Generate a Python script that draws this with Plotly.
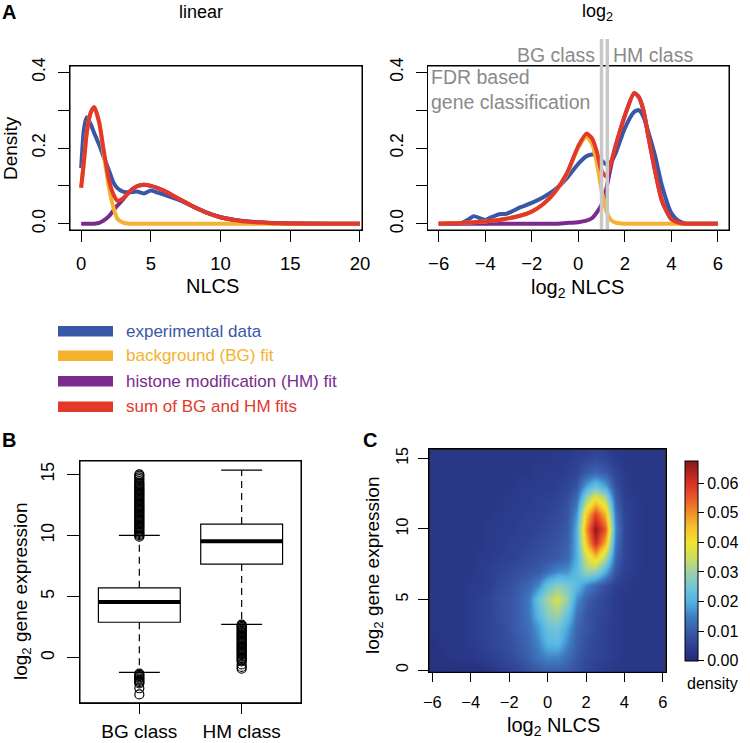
import plotly.graph_objects as go

W, H = 750, 743
def px(x):
    return x / W
def py(y):
    return 1 - y / H

# ---------------- Panel A data (densities) ----------------
nlcs_lin = [0, 0.2, 0.4, 0.7, 0.95, 1.3, 1.6, 2.0, 2.3, 2.6, 3.0, 3.5, 4.0, 4.5,
            5.0, 5.5, 6.0, 7.0, 8.0, 9.0, 10, 11, 12, 13, 14, 16, 18, 20]
exp_lin = [0.147, 0.25, 0.281, 0.262, 0.238, 0.208, 0.178, 0.14, 0.11, 0.094, 0.085, 0.083,
           0.085, 0.08, 0.088, 0.082, 0.076, 0.063, 0.046, 0.03, 0.017, 0.01, 0.006, 0.003,
           0.002, 0.001, 0.0, 0.0]
bg_lin = [0.095, 0.165, 0.24, 0.295, 0.306, 0.265, 0.19, 0.095, 0.045, 0.013, 0.003, 0.0,
          0, 0, 0, 0, 0, 0, 0, 0, 0, 0, 0, 0, 0, 0, 0, 0]
hm_lin = [0, 0, 0, 0, 0, 0.002, 0.008, 0.02, 0.034, 0.048, 0.064, 0.086, 0.099, 0.103,
          0.1, 0.094, 0.086, 0.066, 0.046, 0.029, 0.017, 0.01, 0.005, 0.003, 0.001, 0, 0, 0]
sum_lin = [0.095, 0.165, 0.24, 0.295, 0.308, 0.267, 0.198, 0.115, 0.079, 0.061, 0.067, 0.086,
           0.099, 0.103, 0.1, 0.094, 0.086, 0.066, 0.046, 0.029, 0.017, 0.01, 0.005, 0.003,
           0.001, 0, 0, 0]

nlcs_log = [-6, -5.5, -5.0, -4.7, -4.5, -4.2, -4.0, -3.7, -3.4, -3.1, -2.5, -2.0, -1.5, -1.0,
            -0.5, 0.0, 0.35, 0.6, 0.8, 1.0, 1.2, 1.4, 1.6, 2.0, 2.4, 2.6, 2.8, 3.0, 3.3, 3.6,
            4.0, 4.3, 4.6, 5.0, 5.5, 6.0]
exp_log = [0, 0, 0.002, 0.012, 0.02, 0.014, 0.01, 0.018, 0.025, 0.026, 0.043, 0.055, 0.07,
           0.09, 0.12, 0.158, 0.178, 0.183, 0.18, 0.168, 0.157, 0.163, 0.185, 0.252, 0.295,
           0.3, 0.283, 0.245, 0.18, 0.1, 0.028, 0.008, 0.001, 0, 0, 0]
bg_log = [0, 0.001, 0.002, 0.003, 0.004, 0.005, 0.006, 0.008, 0.01, 0.013, 0.021, 0.032,
          0.052, 0.084, 0.13, 0.201, 0.23, 0.21, 0.16, 0.09, 0.035, 0.01, 0.003, 0, 0, 0,
          0, 0, 0, 0, 0, 0, 0, 0, 0, 0]
hm_log = [0, 0, 0, 0, 0, 0, 0, 0, 0, 0, 0, 0, 0, 0, 0.002, 0.004, 0.008, 0.015, 0.03, 0.05,
          0.09, 0.15, 0.202, 0.285, 0.345, 0.335, 0.3, 0.235, 0.14, 0.06, 0.012, 0.003, 0,
          0, 0, 0]
sum_log = [0, 0.001, 0.002, 0.003, 0.004, 0.005, 0.006, 0.008, 0.01, 0.013, 0.021, 0.032,
           0.052, 0.084, 0.132, 0.205, 0.238, 0.225, 0.19, 0.14, 0.125, 0.16, 0.205, 0.285,
           0.345, 0.335, 0.3, 0.235, 0.14, 0.06, 0.012, 0.003, 0, 0, 0, 0]

fdr_thresholds = [1.0, 1.25]

series_names = ["experimental data", "background (BG) fit",
                "histone modification (HM) fit", "sum of BG and HM fits"]
series_colors = ["#3a57a7", "#f4b22e", "#7b2a8d", "#e3392b"]

# ---------------- Panel B data ----------------
box_classes = ["BG class", "HM class"]
box_pos = [1, 2]
box_q1 = [2.9, 7.66]
box_med = [4.55, 9.52]
box_q3 = [5.72, 10.93]
box_lo = [-1.2, 2.73]
box_hi = [10.0, 15.35]
bg_outliers = [9.9, 10.0, 10.1, 10.2, 10.3, 10.4, 10.5, 10.6, 10.7, 10.8, 10.9, 11.0,
               11.1, 11.2, 11.3, 11.4, 11.5, 11.6, 11.7, 11.8, 11.9, 12.0, 12.1, 12.2,
               12.3, 12.4, 12.5, 12.6, 12.7, 12.8, 12.9, 13.0, 13.1, 13.2, 13.3, 13.4,
               13.5, 13.6, 13.7, 13.8, 13.9, 14.0, 14.1, 14.2, 14.3, 14.45, 14.6, 14.75,
               14.9, 15.0,
               -1.3, -1.4, -1.5, -1.6, -1.7, -1.8, -1.9, -2.0, -2.1, -2.5, -3.0]
hm_outliers = [2.7, 2.6, 2.5, 2.4, 2.3, 2.2, 2.1, 2.0, 1.9, 1.8, 1.7, 1.6, 1.5, 1.4,
               1.3, 1.2, 1.1, 1.0, 0.9, 0.8, 0.7, 0.6, 0.5, 0.4, 0.3, 0.2, 0.1, 0.0,
               -0.1, -0.2, -0.3, -0.55, -0.75, -0.9]

# ---------------- Panel C data (2D density) ----------------
heat_x = [-6, -5.5, -5, -4.5, -4, -3.5, -3, -2.5, -2, -1.5, -1, -0.5, 0, 0.5, 1, 1.5,
          2, 2.5, 3, 3.5, 4, 4.5, 5, 5.5, 6]
heat_y = [0, 1, 2, 3, 4, 5, 6, 7, 8, 9, 10, 11, 12, 13, 14, 15, 16]
heat_z = [
    [.002, .002, .002, .002, .002, .002, .003, .004, .005, .006, .008, .010, .011, .011, .010, .008, .006, .005, .004, .003, .003, .003, .003, .003, .003],
    [.002, .002, .003, .003, .003, .004, .005, .006, .007, .009, .011, .014, .016, .016, .013, .010, .007, .006, .005, .004, .003, .003, .003, .003, .003],
    [.002, .003, .003, .003, .004, .005, .006, .007, .008, .010, .012, .016, .021, .022, .016, .011, .008, .006, .005, .004, .003, .003, .003, .003, .003],
    [.003, .003, .003, .003, .004, .005, .006, .007, .009, .011, .013, .018, .024, .025, .019, .012, .009, .007, .005, .004, .003, .003, .003, .003, .003],
    [.003, .003, .003, .003, .004, .005, .006, .008, .009, .011, .014, .022, .028, .031, .024, .014, .009, .007, .006, .004, .003, .003, .003, .003, .003],
    [.003, .003, .003, .003, .004, .005, .006, .008, .009, .011, .014, .024, .031, .036, .029, .017, .011, .008, .006, .004, .003, .003, .003, .003, .003],
    [.003, .003, .003, .003, .004, .004, .005, .007, .008, .010, .012, .016, .024, .028, .026, .022, .016, .012, .008, .005, .004, .003, .003, .003, .003],
    [.003, .003, .003, .003, .003, .004, .005, .006, .007, .008, .009, .010, .013, .016, .017, .022, .030, .029, .020, .009, .005, .004, .003, .003, .003],
    [.003, .003, .003, .003, .003, .004, .004, .005, .005, .006, .007, .008, .009, .010, .012, .020, .036, .044, .032, .012, .006, .004, .003, .003, .003],
    [.003, .003, .003, .003, .003, .003, .004, .004, .005, .005, .006, .007, .008, .009, .011, .020, .045, .061, .046, .014, .006, .004, .003, .003, .003],
    [.003, .003, .003, .003, .003, .003, .004, .004, .004, .005, .005, .006, .007, .008, .010, .020, .050, .067, .055, .016, .006, .004, .003, .003, .003],
    [.003, .003, .003, .003, .003, .003, .003, .004, .004, .004, .005, .005, .006, .007, .009, .017, .044, .058, .046, .014, .006, .004, .003, .003, .003],
    [.003, .003, .003, .003, .003, .003, .003, .003, .004, .004, .004, .005, .005, .006, .008, .013, .032, .042, .034, .011, .005, .004, .003, .003, .003],
    [.003, .003, .003, .003, .003, .003, .003, .003, .003, .004, .004, .004, .004, .005, .006, .009, .019, .024, .019, .008, .004, .003, .003, .003, .003],
    [.003, .003, .003, .003, .003, .003, .003, .003, .003, .003, .003, .004, .004, .004, .005, .006, .010, .012, .010, .006, .004, .003, .003, .003, .003],
    [.003, .003, .003, .003, .003, .003, .003, .003, .003, .003, .003, .003, .003, .004, .004, .005, .006, .007, .006, .004, .003, .003, .003, .003, .003],
    [.003, .003, .003, .003, .003, .003, .003, .003, .003, .003, .003, .003, .003, .003, .003, .004, .004, .005, .004, .003, .003, .003, .003, .003, .003],
]
density_ticks = [0, 0.01, 0.02, 0.03, 0.04, 0.05, 0.06]
density_max = 0.0676

colorscale = [
    [0.0, "#232a75"], [0.07, "#2d3f91"], [0.148, "#3a5aa8"], [0.22, "#3f7cc2"],
    [0.296, "#52b2e2"], [0.37, "#72c6d8"], [0.444, "#9dd1a6"], [0.52, "#d0de5a"],
    [0.592, "#f2e431"], [0.67, "#f6c02c"], [0.74, "#f18f27"], [0.82, "#e8562a"],
    [0.888, "#d93127"], [1.0, "#851818"],
]

FONT = "Liberation Sans, Arial, Helvetica, sans-serif"

fig = go.Figure()

# ---- Panel A traces ----
lin_series = [exp_lin, bg_lin, hm_lin, sum_lin]
log_series = [exp_log, bg_log, hm_log, sum_log]
order = [0, 2, 1, 3]
for i in order:
    fig.add_trace(go.Scatter(x=nlcs_lin, y=lin_series[i], mode="lines", name=series_names[i],
                             line=dict(color=series_colors[i], width=4, shape="spline", smoothing=0.6),
                             xaxis="x", yaxis="y", showlegend=False))
for i in order:
    fig.add_trace(go.Scatter(x=nlcs_log, y=log_series[i], mode="lines", name=series_names[i],
                             line=dict(color=series_colors[i], width=4, shape="spline", smoothing=0.6),
                             xaxis="x2", yaxis="y2", showlegend=False))

# ---- Panel B traces ----
for k in range(2):
    p = box_pos[k]
    fig.add_trace(go.Box(x=[p], q1=[box_q1[k]], median=[box_med[k]], q3=[box_q3[k]],
                         lowerfence=[box_q1[k]], upperfence=[box_q3[k]], width=0.8,
                         fillcolor="white", line=dict(color="black", width=1.2),
                         boxpoints=False, xaxis="x3", yaxis="y3", showlegend=False,
                         name=box_classes[k]))
    fig.add_trace(go.Scatter(x=[p, p], y=[box_q3[k], box_hi[k]], mode="lines",
                             line=dict(color="black", width=1.2, dash="7px,5px"),
                             xaxis="x3", yaxis="y3", showlegend=False))
    fig.add_trace(go.Scatter(x=[p, p], y=[box_q1[k], box_lo[k]], mode="lines",
                             line=dict(color="black", width=1.2, dash="7px,5px"),
                             xaxis="x3", yaxis="y3", showlegend=False))
    for v in (box_lo[k], box_hi[k]):
        fig.add_trace(go.Scatter(x=[p - 0.2, p + 0.2], y=[v, v], mode="lines",
                                 line=dict(color="black", width=1.2),
                                 xaxis="x3", yaxis="y3", showlegend=False))
    fig.add_trace(go.Scatter(x=[p - 0.4, p + 0.4], y=[box_med[k], box_med[k]], mode="lines",
                             line=dict(color="black", width=4),
                             xaxis="x3", yaxis="y3", showlegend=False))

for k, outl in enumerate([bg_outliers, hm_outliers]):
    fig.add_trace(go.Scatter(x=[box_pos[k]] * len(outl), y=outl, mode="markers",
                             marker=dict(symbol="circle-open", size=9, color="black",
                                         line=dict(width=1.2)),
                             xaxis="x3", yaxis="y3", showlegend=False))

# ---- Panel C heatmap ----
fig.add_trace(go.Heatmap(
    x=heat_x, y=heat_y, z=heat_z, xaxis="x4", yaxis="y4",
    zmin=0, zmax=density_max, colorscale=colorscale, zsmooth="best",
    colorbar=dict(x=px(685), xanchor="left", y=py(660.7), yanchor="bottom",
                  len=200 / H, lenmode="fraction", thickness=13, thicknessmode="pixels",
                  outlinewidth=1, outlinecolor="black", ticks="outside", ticklen=6,
                  tickcolor="black", tickvals=density_ticks,
                  ticktext=["%.2f" % t for t in density_ticks],
                  tickfont=dict(size=16, color="black", family=FONT), xpad=0, ypad=0),
))

# ---------------- Axes ----------------
def ax(**kw):
    base = dict(showline=True, mirror=True, linecolor="black", linewidth=1,
                ticks="outside", tickcolor="black", tickwidth=1, showgrid=False,
                zeroline=False, automargin=False,
                tickfont=dict(size=17.5, color="black", family=FONT))
    base.update(kw)
    return base

yA = [0, 0.1, 0.2, 0.3, 0.4]
yA_text = ["0.0", " ", "0.2", " ", "0.4"]
xA_font = dict(size=18.5, color="black", family=FONT)

fig.update_layout(
    xaxis=ax(domain=[px(70), px(362)], range=[-0.8, 20.15], anchor="y",
             tickvals=[0, 5, 10, 15, 20], ticklen=11, ticklabelstandoff=6, tickfont=xA_font),
    yaxis=ax(domain=[py(230), py(66)], range=[-0.0166, 0.4166], anchor="x",
             tickvals=yA, ticktext=yA_text, tickangle=-90, ticklen=11, ticklabelstandoff=6),
    xaxis2=ax(domain=[px(427.5), px(729)], range=[-6.48, 6.48], anchor="y2",
              tickvals=[-6, -4, -2, 0, 2, 4, 6], ticklen=11, ticklabelstandoff=6,
              tickfont=xA_font),
    yaxis2=ax(domain=[py(230), py(66)], range=[-0.0166, 0.4166], anchor="x2",
              tickvals=yA, ticktext=yA_text, tickangle=-90, ticklen=11, ticklabelstandoff=6),
    xaxis3=ax(domain=[px(80), px(301)], range=[0.42, 2.58], anchor="y3",
              tickvals=box_pos, ticktext=box_classes, ticklen=10, ticklabelstandoff=1,
              tickfont=dict(size=19, color="black", family=FONT)),
    yaxis3=ax(domain=[py(702.7), py(461)], range=[-3.68, 16.09], anchor="x3",
              tickvals=[0, 5, 10, 15], tickangle=-90, ticklen=12, ticklabelstandoff=6),
    xaxis4=ax(domain=[px(429.3), px(665.7)], range=[-6.16, 6.15], anchor="y4",
              tickvals=[-6, -4, -2, 0, 2, 4, 6], ticklen=9, ticklabelstandoff=6,
              tickfont=dict(size=16.5, color="black", family=FONT)),
    yaxis4=ax(domain=[py(672.3), py(449.3)], range=[-0.16, 15.64], anchor="x4",
              tickvals=[0, 5, 10, 15], tickangle=-90, ticklen=10, ticklabelstandoff=4,
              tickfont=dict(size=16, color="black", family=FONT)),
)

# ---------------- Shapes: frames, FDR threshold lines, legend keys ----------------
shapes = []
for xa, ya in (("x", "y"), ("x2", "y2"), ("x3", "y3"), ("x4", "y4")):
    shapes.append(dict(type="rect", xref=xa + " domain", yref=ya + " domain",
                       x0=0, x1=1, y0=0, y1=1, line=dict(color="black", width=1),
                       fillcolor="rgba(0,0,0,0)", layer="above"))
for t in fdr_thresholds:
    shapes.append(dict(type="line", xref="x2", yref="paper", x0=t, x1=t,
                       y0=py(229), y1=py(39), line=dict(color="#c8c8c8", width=3.5),
                       layer="above"))
legend_y = [331.3, 355.7, 381.3, 406.7]
for c, yy in zip(series_colors, legend_y):
    shapes.append(dict(type="rect", xref="paper", yref="paper", x0=px(58), x1=px(113),
                       y0=py(yy + 5.3), y1=py(yy - 5.3), fillcolor=c, line=dict(width=0)))

# ---------------- Annotations ----------------
def ann(text, x, y, size, color="black", xanchor="center", yanchor="middle", angle=0,
        align="center"):
    return dict(text=text, x=px(x), y=py(y), xref="paper", yref="paper", showarrow=False,
                xanchor=xanchor, yanchor=yanchor, textangle=angle, align=align,
                font=dict(size=size, color=color, family=FONT))

annotations = [
    ann("<b>A</b>", 9, 12, 20),
    ann("<b>B</b>", 9, 440, 20),
    ann("<b>C</b>", 370, 440, 20),
    ann("linear", 201, 12, 18),
    ann("log<sub>2</sub>", 597, 13, 18),
    ann("NLCS", 212, 286, 20),
    ann("Density", 10, 148, 19, angle=-90),
    ann("log<sub>2</sub> NLCS", 577, 288, 20),
    ann("FDR based<br>gene classification", 429, 89.5, 19.5, color="#8a8a8a",
        xanchor="left", align="left"),
    ann("log<sub>2</sub> gene expression", 22, 592, 19, angle=-90),
    ann("log<sub>2</sub> gene expression", 374, 566, 19, angle=-90),
    ann("log<sub>2</sub> NLCS", 553, 726, 20),
    ann("density", 685, 683, 16, xanchor="left"),
]
annotations.append(dict(text="BG class", x=fdr_thresholds[0], xref="x2", y=py(55), yref="paper",
                        showarrow=False, xanchor="right", yanchor="middle", xshift=-5,
                        font=dict(size=19.5, color="#8a8a8a", family=FONT)))
annotations.append(dict(text="HM class", x=fdr_thresholds[1], xref="x2", y=py(55), yref="paper",
                        showarrow=False, xanchor="left", yanchor="middle", xshift=4,
                        font=dict(size=19.5, color="#8a8a8a", family=FONT)))
for name, c, yy in zip(series_names, series_colors, legend_y):
    annotations.append(ann(name, 124, yy, 17, color=c, xanchor="left"))

fig.update_layout(
    width=W, height=H, autosize=False,
    margin=dict(l=0, r=0, t=0, b=0, autoexpand=False),
    paper_bgcolor="white", plot_bgcolor="white",
    font=dict(family=FONT, color="black"),
    shapes=shapes, annotations=annotations, showlegend=False,
)

fig.write_html("out.html", config={"displayModeBar": False},
               post_script="document.body.style.margin='0';document.body.style.padding='0';")
